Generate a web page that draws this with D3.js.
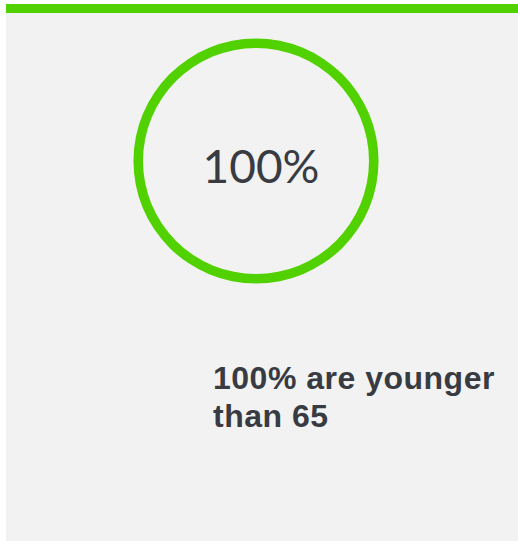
<!DOCTYPE html>
<meta charset="utf-8">
<head>
<style>
  body { margin: 0; background: #ffffff; }
  svg { display: block; }
</style>
</head>
<body>
<script src="https://d3js.org/d3.v7.min.js"></script>
<script>
// chart values
var shares = [100];
var centerLabels = ["100%"];
var captionLines = ["100% are younger", "than 65"];

var width = 518, height = 541;
var green = "#52d100", ink = "#383b42";

var svg = d3.select("body").append("svg")
    .attr("width", width)
    .attr("height", height);

// panel + top accent bar
svg.append("rect")
    .attr("x", 6).attr("y", 13)
    .attr("width", width - 6).attr("height", height - 13)
    .attr("fill", "#f2f2f2");
svg.append("rect")
    .attr("x", 6).attr("y", 4)
    .attr("width", width - 6).attr("height", 9)
    .attr("fill", green);

var angle = d3.scaleLinear().domain([0, 100]).range([0, 2 * Math.PI]);
var arc = d3.arc().innerRadius(113).outerRadius(122.5).startAngle(0);

var g = svg.append("g").attr("transform", "translate(256,161)");

g.selectAll("path.ring")
    .data(shares)
    .join("path")
    .attr("class", "ring")
    .attr("d", d => arc({endAngle: angle(d)}))
    .attr("fill", green);

g.selectAll("text.pct")
    .data(centerLabels)
    .join("text")
    .attr("class", "pct")
    .attr("x", 5)
    .attr("y", 22)
    .attr("text-anchor", "middle")
    .style("font-family", "Lato, 'Open Sans', sans-serif")
    .style("font-size", "46px")
    .attr("fill", ink)
    .text(d => d);

svg.selectAll("text.cap")
    .data(captionLines)
    .join("text")
    .attr("class", "cap")
    .attr("x", 213)
    .attr("y", (d, i) => 389 + i * 38)
    .style("font-family", "'Liberation Sans', Arial, sans-serif")
    .style("font-weight", "bold")
    .style("font-size", "32px")
    .style("letter-spacing", "0.5px")
    .attr("fill", ink)
    .text(d => d);
</script>
</body>
